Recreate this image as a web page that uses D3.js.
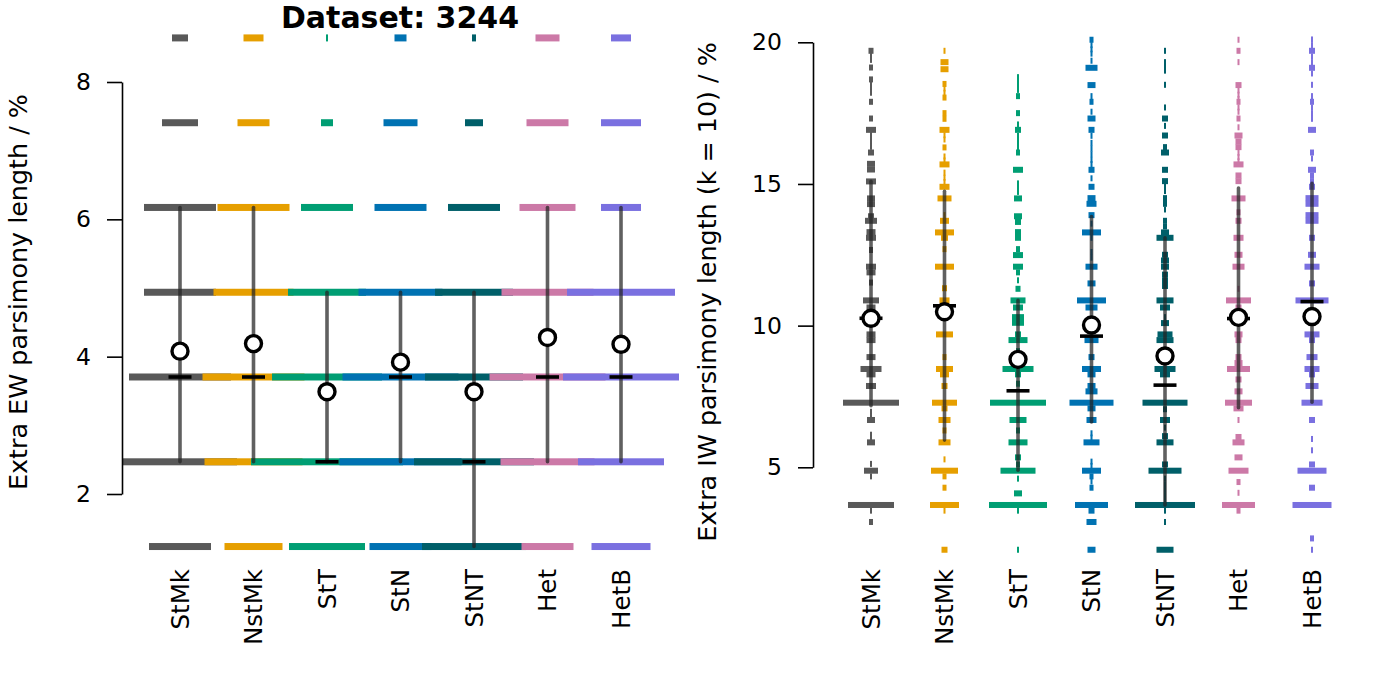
<!DOCTYPE html>
<html><head><meta charset="utf-8">
<script src="https://cdn.jsdelivr.net/npm/d3@7"></script>
<style>
body{margin:0;background:#fff}
svg{display:block}
text{font-family:"DejaVu Sans",sans-serif}
</style>
</head><body>
<svg id="c" width="1382" height="691"></svg>
<script>
// ---------------- DATA ----------------
const titleText = "Dataset: 3244";
const categories = ["StMk", "NstMk", "StT", "StN", "StNT", "Het", "HetB"];
const colors = ["#595959", "#E69F00", "#009E73", "#0072B2", "#005F69", "#CC79A7", "#7A70E0"];

// Left panel: equal-weights extra length levels (%) and frequencies per category
const ewLevels = [1.235, 2.469, 3.704, 4.938, 6.173, 7.407, 8.642];
const ewStMk  = [31, 57, 51, 36, 36, 18, 8];
const ewNstMk = [29, 49, 51, 40, 36, 16, 10];
const ewStT   = [38, 76, 55, 39, 26, 6, 1];
const ewStN   = [31, 61, 58, 42, 26, 17, 6];
const ewStNT  = [52, 60, 49, 39, 26, 9, 2];
const ewHet   = [26, 47, 58, 46, 28, 21, 12];
const ewHetB  = [29.5, 43, 58, 54, 20, 20, 10];
const ewMean   = [4.08, 4.19, 3.49, 3.92, 3.49, 4.28, 4.18];
const ewMedian = [3.704, 3.704, 2.469, 3.704, 2.469, 3.704, 3.704];
const ewLow    = [2.469, 2.469, 2.469, 2.469, 1.235, 2.469, 2.469];
const ewHigh   = [6.173, 6.173, 4.938, 4.938, 4.938, 6.173, 6.173];
const ewTicks  = [2, 4, 6, 8];

// Right panel: implied-weights (k = 10) extra length values (%) and frequencies, [value, count]
const iwStMk = [[19.70,2.5],[19.52,1],[19.38,1],[19.11,2],[18.69,2],[18.52,1],[18.37,1],[18.22,1],[17.90,2],[17.31,2],[16.91,5],[16.76,1],[16.61,1],[16.46,1],[16.31,1],[16.11,3],[15.71,4],[15.51,4],[15.09,5],[14.49,4],[14.29,4],[13.86,3],[13.70,6],[13.30,4.5],[13.10,5],[12.67,2],[12.08,5],[11.88,4.5],[11.52,2],[10.89,8],[10.64,4.5],[10.26,3],[9.69,4.5],[9.49,4.5],[8.89,4.5],[8.47,10.5],[8.28,4.5],[7.87,5],[7.28,28],[6.96,1],[6.81,1],[6.67,4],[6.15,1],[6.00,1],[5.88,4],[5.12,1],[4.88,7],[4.68,1],[3.67,23],[3.47,1],[3.07,2]];
const iwNstMk = [[19.70,1],[19.30,4],[19.05,4],[18.53,2],[18.37,1],[18.22,1],[18.05,2],[17.50,2],[17.30,2],[16.91,5],[16.72,1],[16.57,1],[16.29,2],[15.97,1],[15.83,1],[15.69,5],[15.40,1],[15.22,1],[15.07,1],[14.90,5],[14.49,7],[13.90,1],[13.70,4.5],[13.29,9.5],[13.10,3.5],[12.70,2],[12.08,9.5],[11.32,2.5],[10.89,5],[10.49,3],[9.69,8.5],[8.89,2],[8.47,8.5],[8.28,4.5],[7.87,3],[7.28,12.5],[7.08,3],[6.67,6],[6.30,2],[5.88,6],[5.28,1],[4.88,13.5],[4.68,2],[4.28,2],[3.67,14.5],[3.47,1],[2.09,3]];
const iwStT = [[18.77,1],[18.62,1],[18.47,1],[18.32,1],[18.10,2],[17.50,2],[17.10,1],[16.91,3],[16.70,1],[16.55,1],[16.40,1],[16.25,1],[16.11,2],[15.50,5],[15.02,1],[14.87,1],[14.72,1],[14.49,4],[13.86,4],[13.66,3],[13.30,3],[13.10,3],[12.70,2],[12.49,5],[12.08,5],[11.88,2],[11.60,1],[11.30,2.5],[10.89,7.5],[10.64,5],[10.30,6],[10.10,6],[9.69,3],[9.49,9.5],[9.10,2],[8.47,15.5],[8.28,3],[7.95,2],[7.28,28],[6.67,8.5],[6.30,2],[5.88,9.5],[5.35,3],[5.10,2],[4.88,17.5],[4.60,1],[4.08,4],[3.67,29],[3.47,1],[2.09,1]];
const iwStN = [[20.09,2],[19.90,1],[19.75,1],[19.60,1],[19.35,1],[19.10,6],[18.49,4],[18.10,1],[17.90,2],[17.55,1],[17.31,4],[16.91,3],[16.70,1],[16.45,1],[16.25,1],[16.05,1],[15.85,1],[15.70,1],[15.50,3],[15.20,1],[14.90,3],[14.50,4],[14.30,5],[13.90,3],[13.60,1],[13.29,9.5],[13.10,1],[12.60,1],[12.40,1],[12.08,6],[11.49,4],[10.89,14.5],[10.64,6],[10.10,3],[9.49,7],[8.89,3],[8.47,9.5],[8.28,4],[7.87,4],[7.68,6],[7.28,22],[7.08,4],[6.67,5],[6.20,1],[6.05,1],[5.88,8],[5.20,1],[5.05,1],[4.88,9.5],[4.68,2],[4.50,1],[4.28,2],[3.67,16.5],[3.47,3],[3.07,5],[2.09,4]];
const iwStNT = [[19.70,1],[19.30,1],[19.15,1],[19.00,1],[18.50,1],[17.70,1],[17.31,3],[17.05,1],[16.71,3],[16.30,2],[16.11,4],[15.50,3],[15.10,3],[14.90,1],[14.75,1],[14.50,2],[14.30,2],[14.10,1],[13.70,2],[13.50,2],[13.29,4],[13.10,8.5],[12.50,3],[12.30,4],[12.08,4],[11.80,3],[11.60,3],[11.40,3],[10.89,8.5],[10.64,5],[10.30,1],[10.09,4],[9.69,7.5],[9.49,8.5],[9.10,2],[8.47,10.5],[8.28,5],[7.28,22.5],[7.05,2],[6.67,5],[6.40,1],[6.10,3],[5.88,8.5],[5.10,3],[4.88,16.5],[4.60,1],[4.40,1],[4.20,1],[4.00,1],[3.85,1],[3.67,30],[3.47,1],[3.07,1],[2.09,8.5]];
const iwHet = [[20.09,1],[19.70,2],[19.30,1],[18.49,3],[18.30,1],[18.15,1],[18.00,1],[17.90,2],[17.70,1],[17.55,1],[17.31,2],[17.00,1],[16.71,4],[16.50,3],[16.30,3],[16.10,1],[15.95,1],[15.80,1],[15.69,5],[15.30,3],[15.10,3],[14.49,7],[14.00,2],[13.70,3],[13.10,5],[12.50,4],[12.08,6],[11.30,1],[10.89,12.5],[10.64,3],[10.29,3],[9.69,4],[9.49,3],[8.89,3],[8.68,4],[8.47,11.5],[8.10,3],[7.68,4],[7.28,13.5],[7.08,5],[6.67,1],[6.07,3],[5.88,6],[5.35,4],[4.88,10],[4.48,2],[4.10,1],[3.67,16.5],[3.47,2]];
const iwHetB = [[20.10,1],[19.90,1],[19.70,3],[19.50,1],[19.30,1],[19.10,3],[18.90,1],[18.50,1],[18.10,1],[17.90,2],[17.70,1],[17.50,1],[17.30,1],[16.91,4],[16.11,2],[15.90,1],[15.50,4],[15.30,2],[15.10,2],[14.90,3],[14.50,6.5],[14.30,6.5],[13.90,6.5],[13.70,6.5],[13.10,3],[12.50,4],[12.08,7.5],[11.49,3],[10.89,16.5],[10.30,3],[9.69,7.5],[9.49,3],[8.89,5.5],[8.47,7.5],[8.28,3],[7.87,6.5],[7.28,10.5],[6.67,3],[6.00,1],[5.60,1],[5.10,3],[4.88,14.5],[4.28,3],[3.67,19.5],[2.49,2],[2.09,1]];
const iwMean   = [10.26, 10.49, 8.81, 10.02, 8.93, 10.29, 10.32];
const iwMedian = [10.26, 10.70, 7.70, 9.63, 7.90, 10.25, 10.85];
const iwLow    = [7.17, 5.96, 4.90, 6.60, 3.67, 7.10, 7.30];
const iwHigh   = [15.09, 14.74, 10.89, 13.85, 13.10, 14.86, 15.02];
const iwTicks  = [5, 10, 15, 20];

const ewLabel = "Extra EW parsimony length / %";
const iwLabel = "Extra IW parsimony length (k = 10) / %";

// ---------------- DRAW ----------------
const ewSeries = [ewStMk, ewNstMk, ewStT, ewStN, ewStNT, ewHet, ewHetB];
const iwSeries = [iwStMk, iwNstMk, iwStT, iwStN, iwStNT, iwHet, iwHetB];

const svg = d3.select("#c");
svg.append("rect").attr("width", 1382).attr("height", 691).attr("fill", "#fff");

const TICK_FS = 23.5, CAT_FS = 24.5, LAB_FS = 25.4;

function panel(opts) {
  const g = svg.append("g");
  const x = d3.scalePoint().domain(categories).range(opts.xRange);
  const y = d3.scaleLinear().domain(opts.yDomain).range(opts.yRange);
  const w = d3.scaleLinear().domain([0, 1]).range([0, opts.pxPerCount]);

  // histogram bars, category by category
  opts.bins.forEach((bins, i) => {
    g.append("g").selectAll("rect").data(bins).join("rect")
      .attr("x", d => x(categories[i]) - w(d[1]) / 2)
      .attr("y", d => y(d[0]) - opts.barH / 2)
      .attr("width", d => w(d[1]))
      .attr("height", opts.barH)
      .attr("fill", colors[i]);
  });

  // error bars
  g.append("g").selectAll("line").data(categories).join("line")
    .attr("x1", d => x(d)).attr("x2", d => x(d))
    .attr("y1", (d, i) => y(opts.low[i])).attr("y2", (d, i) => y(opts.high[i]))
    .attr("stroke", "#222").attr("stroke-opacity", 0.72)
    .attr("stroke-width", 3.6).attr("stroke-linecap", "round");

  // medians
  g.append("g").selectAll("line").data(categories).join("line")
    .attr("x1", d => x(d) - 11.5).attr("x2", d => x(d) + 11.5)
    .attr("y1", (d, i) => y(opts.median[i])).attr("y2", (d, i) => y(opts.median[i]))
    .attr("stroke", "#000").attr("stroke-width", 3.6);

  // means
  g.append("g").selectAll("circle").data(categories).join("circle")
    .attr("cx", d => x(d)).attr("cy", (d, i) => y(opts.mean[i]))
    .attr("r", 8).attr("fill", "#fff").attr("stroke", "#000").attr("stroke-width", 3.4);

  // y axis
  const ax = g.append("g").attr("transform", `translate(${opts.axisX},0)`)
    .call(d3.axisLeft(y).tickValues(opts.ticks).tickFormat(d3.format("d"))
      .tickSize(15).tickSizeOuter(0).tickPadding(16));
  ax.select(".domain").attr("stroke", "#000").attr("stroke-width", 1.6);
  ax.selectAll(".tick line").attr("stroke", "#000").attr("stroke-width", 1.6);
  ax.selectAll(".tick text").attr("font-size", TICK_FS).attr("font-family", "DejaVu Sans").attr("fill", "#000");

  // category labels
  g.append("g").selectAll("text").data(categories).join("text")
    .attr("transform", d => `translate(${x(d)},${opts.labelY}) rotate(-90)`)
    .attr("text-anchor", "end").attr("dy", "0.36em")
    .attr("font-size", CAT_FS).text(d => d);

  // y title
  g.append("text")
    .attr("transform", `translate(${opts.titleX},292) rotate(-90)`)
    .attr("text-anchor", "middle").attr("font-size", LAB_FS).text(opts.label);
}

panel({
  xRange: [180, 621], yDomain: [2, 8], yRange: [494, 82],
  pxPerCount: 2, barH: 7,
  bins: ewSeries.map(s => s.map((c, j) => [ewLevels[j], c])),
  low: ewLow, high: ewHigh, median: ewMedian, mean: ewMean,
  ticks: ewTicks, axisX: 122, labelY: 569, titleX: 27, label: ewLabel
});

panel({
  xRange: [871, 1312], yDomain: [5, 20], yRange: [467.3, 42.3],
  pxPerCount: 2, barH: 6,
  bins: iwSeries,
  low: iwLow, high: iwHigh, median: iwMedian, mean: iwMean,
  ticks: iwTicks, axisX: 813, labelY: 569, titleX: 716, label: iwLabel
});

svg.append("text").attr("x", 400).attr("y", 28).attr("text-anchor", "middle")
  .attr("font-size", 30).attr("font-weight", "bold").text(titleText);
</script>
</body></html>
